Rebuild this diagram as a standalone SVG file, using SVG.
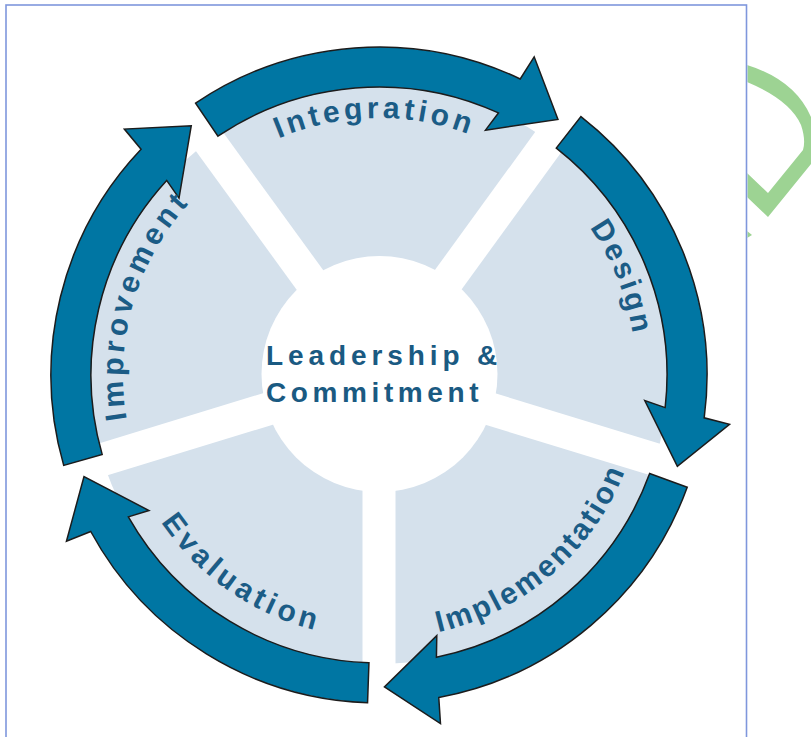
<svg xmlns="http://www.w3.org/2000/svg" xmlns:xlink="http://www.w3.org/1999/xlink" width="811" height="737" viewBox="0 0 811 737">
<style>
.arrow{fill:#0076a3;stroke:#1c1c1c;stroke-width:1.5;stroke-linejoin:miter}
.lbl{font-family:"Liberation Sans",Arial,sans-serif;font-weight:bold;font-size:30px;fill:#1b5c86}
.ctr{font-family:"Liberation Sans",Arial,sans-serif;font-weight:bold;font-size:28px;fill:#1a5a82}
.spoke{fill:#ffffff}
</style>
<defs>
<path id="arrowShape" d="M195.59,103.08 A328,328 0 0 1 520.21,78.95 L534.18,56.83 L557.96,119.43 L485.47,130.14 L498.43,112.93 A288,288 0 0 0 217.95,136.24 Z"/>
<path id="tpIntegration" d="M278.58,138.43 A257,257 0 0 1 594.54,235.03"/>
<path id="tpDesign" d="M589.52,227.59 A257,257 0 0 1 575.87,540.20"/>
<path id="tpImprovement" d="M126.89,419.45 A256,256 0 0 1 291.44,134.44"/>
<path id="tpImplementation" d="M438.39,632.23 A264,264 0 0 0 643,375"/>
<path id="tpEvaluation" d="M160.96,522.07 A263,263 0 0 0 468.95,622.14"/>
<clipPath id="rightClip"><rect x="747.5" y="0" width="70" height="737"/></clipPath>
</defs>
<rect x="0" y="0" width="811" height="737" fill="#ffffff"/>
<g id="green-fragment" clip-path="url(#rightClip)" fill="#9dd393">
<path fill-rule="evenodd" d="M747,65 Q795,80 811,117 L811,164 L768,217 L747,197 Z M747,82 Q790,100 801,125 Q806,140 803,150 L768,193 L747,173 Z"/>
<polygon points="747,231 752,235 747,238"/>
</g>
<rect id="frame" x="6" y="5" width="740.5" height="745" fill="none" stroke="#7f97dc" stroke-width="1.6"/>
<g id="sectors">
<circle cx="379" cy="375" r="289" fill="#d5e1ec"/>
<rect class="spoke" x="379" y="358.5" width="305" height="33" transform="rotate(17 379 375)"/>
<rect class="spoke" x="379" y="358.5" width="305" height="33" transform="rotate(90 379 375)"/>
<rect class="spoke" x="379" y="358.5" width="305" height="33" transform="rotate(163 379 375)"/>
<rect class="spoke" x="379" y="358.5" width="305" height="33" transform="rotate(234 379 375)"/>
<rect class="spoke" x="379" y="358.5" width="305" height="33" transform="rotate(306 379 375)"/>
<circle cx="379.5" cy="374" r="118" fill="#ffffff"/>
</g>
<g id="connectors">
<use xlink:href="#arrowShape" class="arrow"/>
<use xlink:href="#arrowShape" class="arrow" transform="rotate(72 379 375)"/>
<use xlink:href="#arrowShape" class="arrow" transform="rotate(144 379 375)"/>
<use xlink:href="#arrowShape" class="arrow" transform="rotate(216 379 375)"/>
<use xlink:href="#arrowShape" class="arrow" transform="rotate(288 379 375)"/>
</g>
<g id="node-center">
<text class="ctr" x="266" y="365" letter-spacing="4.9">Leadership &amp;</text>
<text class="ctr" x="266" y="402" letter-spacing="4.6">Commitment</text>
</g>
<g id="node-integration">
<text class="lbl" letter-spacing="3.9"><textPath xlink:href="#tpIntegration">Integration</textPath></text>
</g>
<g id="node-design">
<text class="lbl" letter-spacing="3"><textPath xlink:href="#tpDesign">Design</textPath></text>
</g>
<g id="node-implementation">
<text class="lbl" font-size="28" letter-spacing="2.6"><textPath xlink:href="#tpImplementation">Implementation</textPath></text>
</g>
<g id="node-evaluation">
<text class="lbl" letter-spacing="4.4"><textPath xlink:href="#tpEvaluation">Evaluation</textPath></text>
</g>
<g id="node-improvement">
<text class="lbl" letter-spacing="4.3"><textPath xlink:href="#tpImprovement">Improvement</textPath></text>
</g>
</svg>
